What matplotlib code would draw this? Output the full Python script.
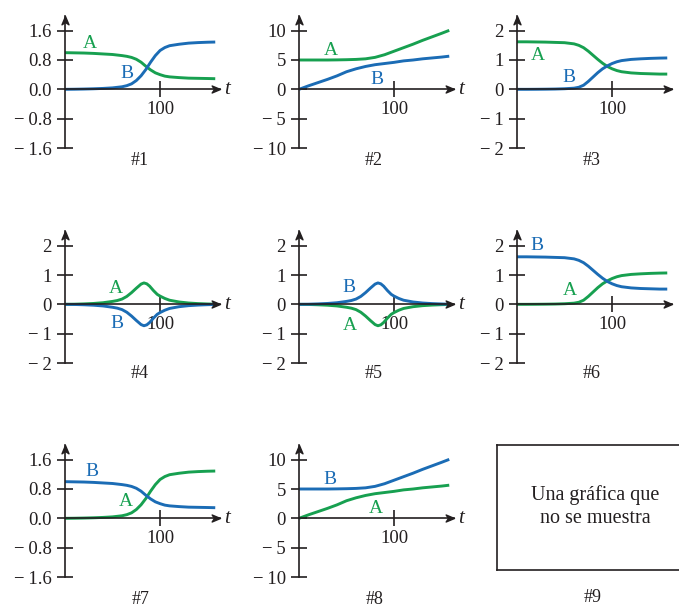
import matplotlib.pyplot as plt
from matplotlib.path import Path

plt.rcParams['font.family'] = ['Liberation Serif', 'DejaVu Serif']
plt.rcParams['axes.unicode_minus'] = True

VERDE = '#17a050'
AZUL = '#1b6cb5'
TINTA = '#231f20'

# curvas (se reutilizan entre gráficas con A y B intercambiados)
t_s = [0, 10, 20, 30, 40, 50, 60, 65, 70, 75, 80, 85, 90, 95, 100, 105, 110, 120, 130, 140, 150, 158]
baja_1 = [1.00, 0.995, 0.99, 0.98, 0.965, 0.95, 0.92, 0.90, 0.87, 0.82, 0.74, 0.63, 0.53, 0.45,
          0.40, 0.36, 0.34, 0.32, 0.305, 0.30, 0.295, 0.29]
sube_1 = [0.0, 0.003, 0.008, 0.015, 0.025, 0.04, 0.07, 0.10, 0.15, 0.24, 0.37, 0.54, 0.74, 0.92,
          1.06, 1.14, 1.19, 1.23, 1.26, 1.275, 1.285, 1.29]
baja_3 = [1.62, 1.62, 1.615, 1.61, 1.60, 1.59, 1.55, 1.50, 1.42, 1.30, 1.16, 1.02, 0.89, 0.78,
          0.70, 0.64, 0.60, 0.56, 0.54, 0.53, 0.52, 0.52]
sube_3 = [0.0, 0.0, 0.002, 0.005, 0.01, 0.02, 0.04, 0.07, 0.14, 0.27, 0.42, 0.57, 0.70, 0.80,
          0.88, 0.94, 0.98, 1.02, 1.04, 1.055, 1.065, 1.07]

t_2 = [0, 10, 20, 30, 40, 50, 60, 70, 80, 90, 100, 110, 120, 130, 140, 150, 158]
crece_2 = [5.0, 5.0, 5.0, 5.0, 5.02, 5.05, 5.1, 5.2, 5.45, 5.9, 6.5, 7.1, 7.7, 8.35, 8.95, 9.55, 10.05]
satura_2 = [0.0, 0.6, 1.15, 1.7, 2.3, 3.0, 3.5, 3.9, 4.2, 4.4, 4.6, 4.85, 5.0, 5.2, 5.35, 5.5, 5.65]

t_4 = [0, 10, 20, 30, 40, 50, 55, 60, 65, 70, 75, 80, 83, 86, 89, 93, 97, 100, 105, 110,
       120, 130, 140, 150, 158]
pico_4 = [0.0, 0.005, 0.015, 0.03, 0.055, 0.10, 0.13, 0.18, 0.27, 0.40, 0.55, 0.69, 0.73, 0.70,
          0.62, 0.47, 0.34, 0.28, 0.20, 0.14, 0.08, 0.045, 0.025, 0.012, 0.005]
valle_4 = [0.0, -0.005, -0.015, -0.03, -0.055, -0.10, -0.13, -0.18, -0.27, -0.40, -0.55, -0.69,
           -0.73, -0.70, -0.62, -0.47, -0.34, -0.28, -0.20, -0.14, -0.08, -0.045, -0.025, -0.012, -0.005]

ticks_08 = [-1.6, -0.8, 0.0, 0.8, 1.6]
ticks_1 = [-2, -1, 0, 1, 2]
ticks_5 = [-10, -5, 0, 5, 10]

# (t, A, B, yticks, formato, ylim, posición etiqueta A, posición etiqueta B)
graficas = [
    (t_s, baja_1, sube_1, ticks_08, '{:.1f}', (-1.6, 2.0), (26, 1.25), (65, 0.43)),
    (t_2, crece_2, satura_2, ticks_5, '{:g}', (-10, 12.5), (33, 6.6), (82, 1.7)),
    (t_s, baja_3, sube_3, ticks_1, '{:g}', (-2, 2.5), (22, 1.15), (55, 0.41)),
    (t_4, pico_4, valle_4, ticks_1, '{:g}', (-2, 2.5), (53, 0.54), (55, -0.64)),
    (t_4, valle_4, pico_4, ticks_1, '{:g}', (-2, 2.5), (53, -0.71), (53, 0.57)),
    (t_s, sube_3, baja_3, ticks_1, '{:g}', (-2, 2.5), (56, 0.47), (21, 2.0)),
    (t_s, sube_1, baja_1, ticks_08, '{:.1f}', (-1.6, 2.0), (64, 0.46), (28, 1.27)),
    (t_2, satura_2, crece_2, ticks_5, '{:g}', (-10, 12.5), (81, 1.7), (33, 6.6)),
]

W, H = 679, 607
col_x = [65, 299, 517]
fila_y = [148, 363, 577]
off_num = [12, 10, 23]
ancho, alto = 155, 132

flecha_der = Path([(0, 0), (-1, 0.42), (-0.72, 0), (-1, -0.42), (0, 0)],
                  [Path.MOVETO, Path.LINETO, Path.LINETO, Path.LINETO, Path.CLOSEPOLY])
flecha_arr = Path([(0, 0), (-0.42, -1), (0, -0.72), (0.42, -1), (0, 0)],
                  [Path.MOVETO, Path.LINETO, Path.LINETO, Path.LINETO, Path.CLOSEPOLY])


def etiqueta(v, fmt):
    s = fmt.format(v)
    if s.startswith('-'):
        s = '\u2212\u2009' + s[1:]
    return s


fig = plt.figure(figsize=(W / 100, H / 100), dpi=100)

for i, (t, a, b, yt, fmt, ylim, pos_a, pos_b) in enumerate(graficas):
    fila, col = divmod(i, 3)
    ax = fig.add_axes([col_x[col] / W, 1 - fila_y[fila] / H, ancho / W, alto / H])
    ax.set_xlim(0, 163)
    ax.set_ylim(*ylim)
    ax.patch.set_visible(False)
    for s in ['top', 'right']:
        ax.spines[s].set_visible(False)
    ax.spines['bottom'].set_position(('data', 0))
    for s in ['left', 'bottom']:
        ax.spines[s].set_color(TINTA)
        ax.spines[s].set_linewidth(1.2)

    ax.plot(t, a, color=VERDE, lw=2.1, solid_capstyle='butt')
    ax.plot(t, b, color=AZUL, lw=2.1, solid_capstyle='butt')
    ax.text(*pos_a, 'A', color=VERDE, fontsize=14, ha='center', va='center')
    ax.text(*pos_b, 'B', color=AZUL, fontsize=14, ha='center', va='center')

    ax.set_yticks(yt)
    ax.set_yticklabels([etiqueta(v, fmt) for v in yt])
    ax.set_xticks([100])
    ax.set_xticklabels(['100'])
    ax.tick_params(direction='inout', length=11, width=1.2, color=TINTA,
                   labelsize=13.5, labelcolor=TINTA)
    ax.tick_params(axis='y', pad=4)
    ax.tick_params(axis='x', pad=3)

    ax.plot(1, 0, marker=flecha_der, ms=12, color=TINTA,
            transform=ax.get_yaxis_transform(), clip_on=False)
    ax.plot(0, 1, marker=flecha_arr, ms=12, color=TINTA,
            transform=ax.get_xaxis_transform(), clip_on=False)
    if col < 2:
        ax.annotate('t', xy=(1, 0), xycoords=ax.get_yaxis_transform(), xytext=(4, 0),
                    textcoords='offset pixels', fontsize=15, fontstyle='italic',
                    color=TINTA, ha='left', va='center')
    ax.annotate('#%d' % (i + 1), xy=(79, 0), xycoords=ax.get_xaxis_transform(),
                xytext=(0, -off_num[fila]), textcoords='offset pixels',
                fontsize=13, color=TINTA, ha='center', va='center')

# gráfica 9: recuadro sin datos
caja = fig.add_axes([497 / W, 1 - 570 / H, 196 / W, 125 / H])
caja.set_xticks([])
caja.set_yticks([])
for s in caja.spines.values():
    s.set_color(TINTA)
    s.set_linewidth(1.2)
caja.text(0.5, 0.51, 'Una gráfica que\nno se muestra', transform=caja.transAxes,
          ha='center', va='center', fontsize=14.5, color=TINTA, linespacing=1.3)
fig.text(593 / W, 1 - 598 / H, '#9', fontsize=13, color=TINTA, ha='center', va='center')

fig.savefig('out.png', dpi=100)
